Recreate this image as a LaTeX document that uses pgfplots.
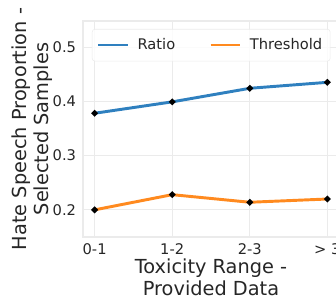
\documentclass[border=0pt]{standalone}
\usepackage{pgfplots}
\pgfplotsset{compat=1.18}
\usepackage{fontspec}
\setmainfont{DejaVu Sans}
\definecolor{txt}{HTML}{262626}
\definecolor{gridc}{HTML}{EBEBEB}
\definecolor{cblue}{HTML}{2F80BF}
\definecolor{corange}{HTML}{FF8A1F}
\begin{document}
\begin{tikzpicture}
\path[use as bounding box, clip] (-62.25pt,-48.75pt) rectangle (189.75pt,177.75pt);
\begin{axis}[
  at={(0,0)}, anchor=south west,
  scale only axis, width=192pt, height=162pt,
  xmin=-0.15, xmax=3.15, ymin=0.15, ymax=0.548,
  xtick={0,1,2,3}, xticklabels={0-1,1-2,2-3,> 3},
  ytick={0.2,0.3,0.4,0.5},
  yticklabels={0.2,0.3,0.4,0.5},
  major tick length=0pt,
  grid=major, major grid style={gridc, line width=0.8pt},
  axis line style={gridc, line width=0.9pt},
  tick label style={font=\fontsize{11}{13}\selectfont, text=txt, inner sep=0pt},
  xticklabel style={yshift=-4.5pt},
  yticklabel style={xshift=-5pt},
  xlabel={Toxicity Range -\\Provided Data},
  ylabel={Hate Speech Proportion -\\Selected Samples},
  xlabel style={font=\fontsize{14.5}{17}\selectfont, text=txt, align=center, inner sep=0pt,
    at={(axis description cs:0.5,0)}, anchor=north, yshift=-16pt},
  ylabel style={font=\fontsize{14.5}{17}\selectfont, text=txt, align=center, inner sep=0pt,
    at={(axis description cs:-0.117,0.5)}, anchor=south},
  legend columns=2,
  legend style={at={(0.035,0.963)}, anchor=north west, draw=gridc, fill=white, fill opacity=0.8, text opacity=1,
    rounded corners=2pt, font=\fontsize{11}{13}\selectfont, text=txt,
    /tikz/every odd column/.append style={column sep=5pt},
    /tikz/every even column/.append style={column sep=24pt}, inner xsep=4pt, inner ysep=5pt},
  legend image code/.code={\draw[#1, line width=1pt] (0pt,0pt) -- (22pt,0pt);},
]
\addplot[cblue, line width=2.2pt, mark=*, mark size=1.1pt, mark options={black, fill=black}]
  coordinates {(0,0.378) (1,0.399) (2,0.424) (3,0.435)};
\addlegendentry{Ratio}
\addplot[corange, line width=2.2pt, mark=*, mark size=1.1pt, mark options={black, fill=black}]
  coordinates {(0,0.200) (1,0.228) (2,0.214) (3,0.220)};
\addlegendentry{Threshold}
\end{axis}
\end{tikzpicture}
\end{document}
